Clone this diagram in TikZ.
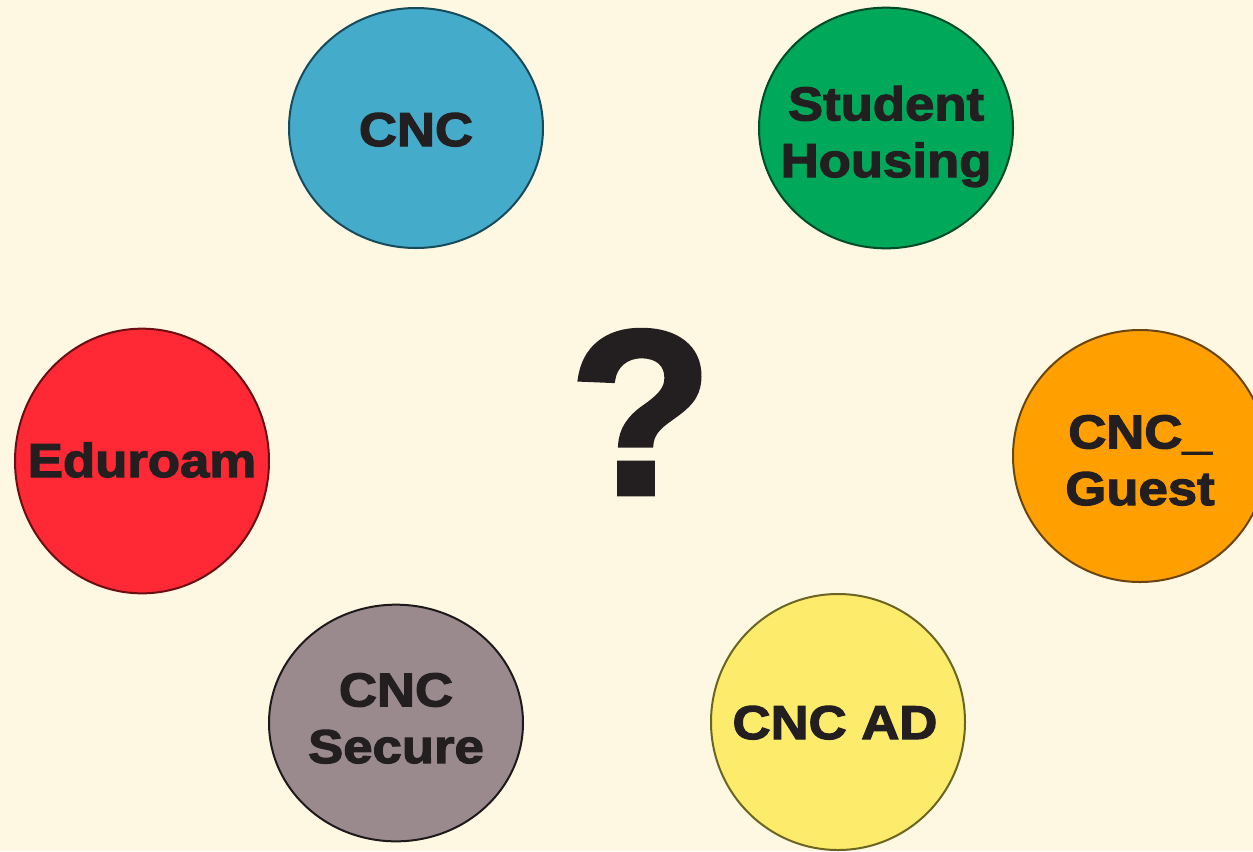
\documentclass[tikz,border=0pt]{standalone}
\usepackage{fontspec}
\usepackage{tikz}
\usetikzlibrary{shapes.geometric}

\newfontfamily\heavyfont{Liberation Sans Bold}[FakeBold=2.6, FakeStretch=1.11]
\newfontfamily\queryfont{Liberation Sans Bold}[FakeBold=2]

\definecolor{paper}{HTML}{FEF8E2}
\definecolor{ink}{HTML}{231F20}
\definecolor{cncblue}{HTML}{45ABCB}
\definecolor{cncblueline}{HTML}{164B5C}
\definecolor{housegreen}{HTML}{00A85A}
\definecolor{housegreenline}{HTML}{004A26}
\definecolor{edured}{HTML}{FE2935}
\definecolor{eduredline}{HTML}{6B0F12}
\definecolor{guestorange}{HTML}{FFA000}
\definecolor{guestorangeline}{HTML}{6B4510}
\definecolor{adyellow}{HTML}{FDEC6B}
\definecolor{adyellowline}{HTML}{6B6423}
\definecolor{securegray}{HTML}{9A8A8D}
\definecolor{securegrayline}{HTML}{1E1A1B}

\tikzset{
  spot/.style={ellipse, draw, line width=1.5pt, inner sep=0pt},
  spottext/.style={anchor=base, inner sep=0.75pt, align=center, text=ink,
    font=\heavyfont\fontsize{35.6}{42.5}\selectfont},
}

\begin{document}
\begin{tikzpicture}[x=0.75pt,y=0.75pt,yscale=-1,xscale=1]
\fill[paper] (0,0) rectangle (1253,851);
\useasboundingbox (0,0) rectangle (1253,851);

%Shape: Ellipse [cnc]
\node [spot, fill=cncblue, draw=cncblueline, minimum width=190.5pt, minimum height=180pt] (cnc) at (416,128) {};
%Shape: Ellipse [housing]
\node [spot, fill=housegreen, draw=housegreenline, minimum width=190.5pt, minimum height=180.5pt] (housing) at (886,128) {};
%Shape: Ellipse [eduroam]
\node [spot, fill=edured, draw=eduredline, minimum width=190.5pt, minimum height=198.5pt] (eduroam) at (142,461) {};
%Shape: Ellipse [guest]
\node [spot, fill=guestorange, draw=guestorangeline, minimum width=190.5pt, minimum height=189pt] (guest) at (1140,456) {};
%Shape: Ellipse [secure]
\node [spot, fill=securegray, draw=securegrayline, minimum width=190.5pt, minimum height=177.5pt] (secure) at (396,723) {};
%Shape: Ellipse [ad]
\node [spot, fill=adyellow, draw=adyellowline, minimum width=190.5pt, minimum height=192pt] (ad) at (838,722) {};

% Text Node
\node [spottext] (cnclabel) at (416,146) {CNC};
% Text Node
\node [spottext] (housinglabel) at (886,177) {Student\\Housing};
% Text Node
\node [spottext] (eduroamlabel) at (142,477) {Eduroam};
% Text Node
\node [spottext] (guestlabel) at (1140,505) {CNC\_\\Guest};
% Text Node
\node [spottext] (securelabel) at (396,763) {CNC\\Secure};
% Text Node
\node [spottext] (adlabel) at (835,739) {CNC AD};
% Text Node
\node [anchor=base, inner sep=0pt, text=ink, font=\queryfont\fontsize{176}{176}\selectfont] (query) at (641,494) {?};

\end{tikzpicture}
\end{document}
